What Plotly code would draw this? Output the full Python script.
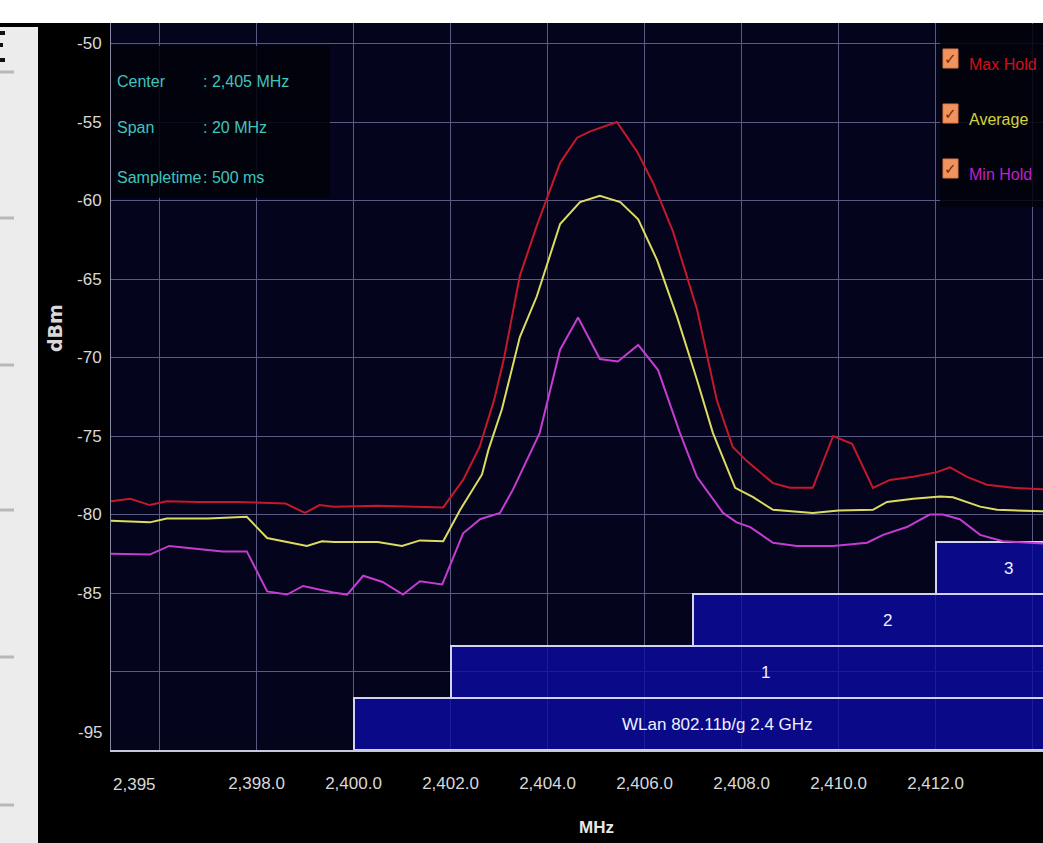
import plotly.graph_objects as go

# ---------------- data ----------------
max_freq = [2395.0, 2395.4, 2395.8, 2396.15, 2396.8, 2397.6, 2398.6, 2399.0, 2399.3, 2399.6,
            2400.5, 2401.2, 2401.85, 2402.26, 2402.6, 2402.9, 2403.1, 2403.43, 2403.78, 2404.26,
            2404.61, 2404.88, 2405.43, 2405.85, 2406.18, 2406.59, 2407.08, 2407.49, 2407.82, 2408.11,
            2408.65, 2409.0, 2409.47, 2409.89, 2410.28, 2410.71, 2411.06, 2411.54, 2412.03, 2412.3,
            2412.65, 2413.06, 2413.6, 2414.22, 2415.0]
max_dbm = [-79.15, -79.0, -79.4, -79.15, -79.2, -79.2, -79.3, -79.9, -79.4, -79.5,
           -79.45, -79.5, -79.55, -77.8, -75.7, -72.7, -70.1, -64.8, -61.6, -57.6,
           -56.0, -55.6, -55.0, -56.9, -58.9, -62.0, -66.9, -72.7, -75.7, -76.6,
           -78.0, -78.3, -78.3, -75.0, -75.5, -78.3, -77.8, -77.6, -77.3, -77.0,
           -77.6, -78.1, -78.3, -78.4, -78.4]

avg_freq = [2395.0, 2395.8, 2396.15, 2397.0, 2397.8, 2398.22, 2399.04, 2399.35, 2399.6, 2400.5,
            2401.0, 2401.37, 2401.85, 2402.2, 2402.65, 2402.78, 2403.06, 2403.43, 2403.78, 2404.26,
            2404.67, 2405.08, 2405.5, 2405.87, 2406.26, 2406.67, 2407.08, 2407.41, 2407.87, 2408.24,
            2408.65, 2409.47, 2410.0, 2410.71, 2411.0, 2411.54, 2412.1, 2412.36, 2412.92, 2413.27,
            2414.22, 2415.0]
avg_dbm = [-80.4, -80.5, -80.25, -80.25, -80.15, -81.5, -82.0, -81.7, -81.75, -81.75,
           -82.0, -81.65, -81.7, -79.7, -77.45, -75.9, -73.3, -68.7, -66.1, -61.5,
           -60.1, -59.7, -60.1, -61.2, -63.8, -67.4, -71.4, -74.8, -78.3, -78.9,
           -79.7, -79.9, -79.75, -79.7, -79.2, -79.0, -78.85, -78.9, -79.5, -79.7,
           -79.8, -79.8]

min_freq = [2395.0, 2395.8, 2396.2, 2396.8, 2397.3, 2397.8, 2398.22, 2398.63, 2398.96, 2399.58,
            2399.87, 2400.2, 2400.6, 2401.02, 2401.37, 2401.83, 2402.26, 2402.61, 2403.02, 2403.29,
            2403.84, 2404.26, 2404.63, 2405.08, 2405.45, 2405.87, 2406.28, 2406.73, 2407.08, 2407.62,
            2407.9, 2408.18, 2408.65, 2409.14, 2409.89, 2410.59, 2410.92, 2411.41, 2411.88, 2412.15,
            2412.5, 2412.92, 2413.39, 2414.22, 2415.0]
min_dbm = [-82.5, -82.55, -82.0, -82.2, -82.35, -82.35, -84.9, -85.1, -84.55, -84.97,
           -85.1, -83.9, -84.3, -85.1, -84.25, -84.45, -81.2, -80.3, -79.9, -78.4,
           -74.8, -69.5, -67.45, -70.1, -70.25, -69.2, -70.8, -74.8, -77.6, -79.9,
           -80.5, -80.8, -81.8, -82.0, -82.0, -81.8, -81.3, -80.8, -80.0, -80.0,
           -80.3, -81.3, -81.7, -81.85, -81.85]

series_names = ["Max Hold", "Average", "Min Hold"]

channel_names = ["WLan 802.11b/g 2.4 GHz", "1", "2", "3"]
channel_start = [2400.0, 2402.0, 2407.0, 2412.0]
channel_end = [2483.5, 2422.0, 2427.0, 2432.0]

y_tick_vals = [-50, -55, -60, -65, -70, -75, -80, -85, -90, -95]
y_tick_text = ["-50", "-55", "-60", "-65", "-70", "-75", "-80", "-85", "", ""]
x_tick_vals = [2396, 2398, 2400, 2402, 2404, 2406, 2408, 2410, 2412, 2414]
x_tick_text = ["", "2,398.0", "2,400.0", "2,402.0", "2,404.0", "2,406.0", "2,408.0",
               "2,410.0", "2,412.0", ""]

center_mhz = 2405
span_mhz = 20
sample_ms = 500

# ---------------- layout constants ----------------
W, H = 1043, 843
ML, MR, MT, MB = 111, 0, 23, 93
PW, PH = W - ML - MR, H - MT - MB
PX_PER_MHZ = 48.5
PX_PER_DB = 15.7
x_lo = center_mhz - span_mhz / 2
x_hi_full = center_mhz + span_mhz / 2
x_range = [x_lo, x_lo + PW / PX_PER_MHZ]
y_range = [-95, -95 + PH / PX_PER_DB]
ROW_DB = 52 / PX_PER_DB

FONT = "Liberation Sans, Arial, sans-serif"
line_colors = ["#c4182c", "#dcdc60", "#c43cd0"]
text_colors = ["#d0101c", "#d4d43c", "#c020c8"]


def px(xp):
    return (xp - ML) / PW


def py(yp):
    return 1 - (yp - MT) / PH


fig = go.Figure()

# channel bars
fig.add_trace(go.Bar(
    orientation="h",
    base=channel_start,
    x=[e - s for s, e in zip(channel_start, channel_end)],
    y=[y_range[0] + (i + 0.5) * ROW_DB for i in range(len(channel_names))],
    width=ROW_DB,
    marker=dict(color="rgba(12,12,165,0.80)", line=dict(color="#d2d2f2", width=2)),
    showlegend=False, hoverinfo="skip",
))

for f, d, c, n in zip([max_freq, avg_freq, min_freq], [max_dbm, avg_dbm, min_dbm],
                      line_colors, series_names):
    fig.add_trace(go.Scatter(x=f, y=d, mode="lines", name=n,
                             line=dict(color=c, width=2), showlegend=False))

annotations = []
# channel labels centred in visible part
for i, (nm, s) in enumerate(zip(channel_names, channel_start)):
    annotations.append(dict(
        x=(max(s, x_lo) + x_hi_full) / 2, y=y_range[0] + (i + 0.5) * ROW_DB,
        xref="x", yref="y", text=nm, showarrow=False,
        font=dict(family=FONT, size=17, color="#f0f0ff"),
    ))

# info box text
info_rows = [("Center", f": {center_mhz:,} MHz", 82),
             ("Span", f": {span_mhz} MHz", 128),
             ("Sampletime", f": {sample_ms} ms", 177)]
for lab, val, yy in info_rows:
    annotations.append(dict(x=px(115), y=py(yy), xref="paper", yref="paper", text=lab,
                            xanchor="left", yanchor="middle", showarrow=False,
                            font=dict(family=FONT, size=16, color="#40c4bc")))
    annotations.append(dict(x=px(201), y=py(yy), xref="paper", yref="paper", text=val,
                            xanchor="left", yanchor="middle", showarrow=False,
                            font=dict(family=FONT, size=16, color="#40c4bc")))

# legend
shapes = []
leg_y = [58, 113, 168]
for n, tc, yy in zip(series_names, text_colors, leg_y):
    annotations.append(dict(x=px(967), y=py(yy + 6), xref="paper", yref="paper", text=n,
                            xanchor="left", yanchor="middle", showarrow=False,
                            font=dict(family=FONT, size=16, color=tc)))
    shapes.append(dict(type="rect", xref="paper", yref="paper",
                       x0=px(943), x1=px(958), y0=py(yy + 10), y1=py(yy - 9),
                       fillcolor="#f2935e", line=dict(color="#e07848", width=1), layer="above"))
    annotations.append(dict(x=px(950.5), y=py(yy + 1), xref="paper", yref="paper", text="✓",
                            xanchor="center", yanchor="middle", showarrow=False,
                            font=dict(family="DejaVu Sans", size=15, color="#6a2e10")))

# y tick "-95" (shifted up) and axis titles, "2,395"
annotations.append(dict(x=px(105), y=-93.9, xref="paper", yref="y", text="-95",
                        xanchor="right", yanchor="middle", showarrow=False,
                        font=dict(family=FONT, size=17, color="#d8d8d8")))
annotations.append(dict(x=x_lo, y=py(773), xref="x", yref="paper", text="2,395",
                        xanchor="left", yanchor="top", showarrow=False,
                        font=dict(family=FONT, size=17, color="#d8d8d8")))
annotations.append(dict(x=center_mhz, y=py(827), xref="x", yref="paper", text="<b>MHz</b>",
                        xanchor="center", yanchor="middle", showarrow=False,
                        font=dict(family=FONT, size=17, color="#e8e8e8")))
annotations.append(dict(x=px(55), y=py(328), xref="paper", yref="paper", text="<b>dBm</b>",
                        textangle=-90, xanchor="center", yanchor="middle", showarrow=False,
                        font=dict(family="DejaVu Sans", size=19, color="#d8d8d8")))

# overlay boxes (info / legend)
shapes.insert(0, dict(type="rect", xref="paper", yref="paper", x0=px(111), x1=px(330),
                      y0=py(198), y1=py(46), fillcolor="rgba(2,2,10,0.88)",
                      line=dict(width=0), layer="above"))
shapes.insert(1, dict(type="rect", xref="paper", yref="paper", x0=px(940), x1=px(1043),
                      y0=py(207), y1=py(24), fillcolor="rgba(2,2,10,0.85)",
                      line=dict(width=0), layer="above"))
# surrounding window chrome
shapes.append(dict(type="rect", xref="paper", yref="paper", x0=px(0), x1=px(1043),
                   y0=py(23), y1=py(0), fillcolor="white", line=dict(width=0), layer="above"))
shapes.append(dict(type="rect", xref="paper", yref="paper", x0=px(0), x1=px(38),
                   y0=py(843), y1=py(27), fillcolor="#ececec", line=dict(width=0), layer="above"))
for yy in [72, 218, 365, 510, 657, 805]:
    shapes.append(dict(type="line", xref="paper", yref="paper", x0=px(0), x1=px(14),
                       y0=py(yy), y1=py(yy), line=dict(color="#b8b8b8", width=3), layer="above"))
for yy, ww in [(33, 5), (45, 3), (60, 5)]:
    shapes.append(dict(type="line", xref="paper", yref="paper", x0=px(0), x1=px(ww),
                       y0=py(yy), y1=py(yy), line=dict(color="#111111", width=4), layer="above"))

fig.update_layout(
    width=W, height=H,
    margin=dict(l=ML, r=MR, t=MT, b=MB, pad=0),
    paper_bgcolor="black", plot_bgcolor="#04041c",
    bargap=0, barmode="overlay",
    showlegend=False,
    annotations=annotations, shapes=shapes,
    xaxis=dict(range=x_range, tickvals=x_tick_vals, ticktext=x_tick_text,
               showgrid=True, gridcolor="#5a5a82", gridwidth=1, zeroline=False,
               showline=True, linecolor="#c8c8dc", linewidth=2,
               ticks="", ticklabelstandoff=17,
               tickfont=dict(family=FONT, size=17, color="#d8d8d8")),
    yaxis=dict(range=y_range, tickvals=y_tick_vals, ticktext=y_tick_text,
               showgrid=True, gridcolor="#5a5a82", gridwidth=1, zeroline=False,
               showline=True, linecolor="#8a8aa4", linewidth=1,
               ticks="", ticklabelstandoff=5,
               tickfont=dict(family=FONT, size=17, color="#d8d8d8")),
)

fig.write_html("out.html", config={"displayModeBar": False},
               post_script="document.body.style.margin='0px';document.body.style.overflow='hidden';")
